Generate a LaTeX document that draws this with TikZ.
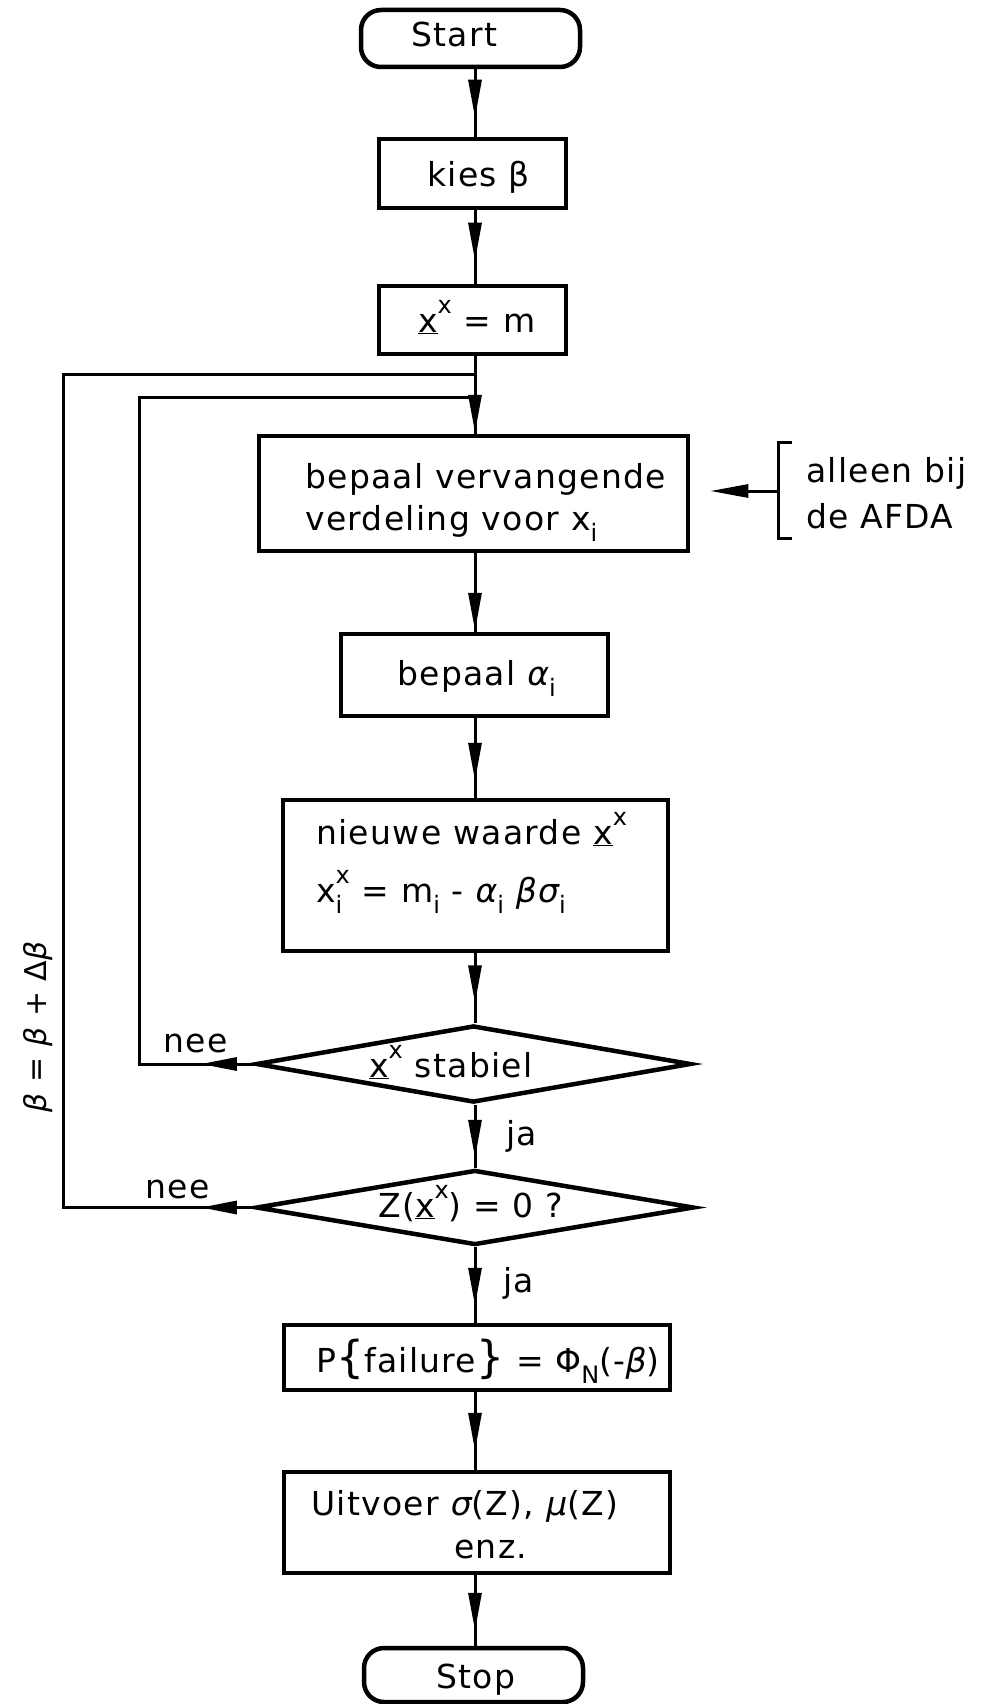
\documentclass[tikz,border=0pt]{standalone}
\usepackage{fontspec}
\setmainfont{DejaVu Sans}[LetterSpace=4]
\usetikzlibrary{arrows.meta,shapes.geometric,decorations.markings}
\newcommand\lo[1]{\raisebox{-0.34em}{\fontsize{24}{24}\selectfont #1}}
\newcommand\hi[1]{\raisebox{0.55em}{\fontsize{24}{24}\selectfont #1}}
\newcommand\lohi[2]{\makebox[0pt][l]{\lo{#1}}\hi{#2}}
\newcommand\ux{\underline{x}}
\newcommand\gr[1]{{\itshape #1}}
\newcommand\bigbr[1]{{\fontsize{44}{44}\selectfont #1}}
\tikzset{
  box/.style={draw, line width=4.5pt, rectangle, inner sep=0pt},
  term/.style={box, rounded corners=20pt},
  dia/.style={draw, line width=4.5pt, diamond, inner sep=0pt},
  txt/.style={font=\fontsize{33}{40}\selectfont, inner sep=0pt, anchor=base west},
  wire/.style={line width=3pt},
  flow/.style={wire, postaction={decorate}, decoration={markings,
     mark=at position -#1 with {\arrow{Triangle[length=38pt,width=13pt]}}}},
  midflow/.style={wire, postaction={decorate}, decoration={markings,
     mark=at position #1 with {\arrow{Triangle[length=36pt,width=13pt]}}}},
}
\begin{document}
\begin{tikzpicture}[x=1pt,y=-1pt]
\fill[white] (0,0) rectangle (982,1704);
\useasboundingbox (0,0) rectangle (982,1704);

% boxes
\node[term, minimum width=219pt, minimum height=57pt] (start) at (470.5,38.5) {};
\node[box, minimum width=187pt, minimum height=69pt] (kies) at (472.5,173.5) {};
\node[box, minimum width=187pt, minimum height=68pt] (xm) at (472.5,320) {};
\node[box, minimum width=429pt, minimum height=115pt] (b1) at (473.5,493.5) {};
\node[box, minimum width=267pt, minimum height=82pt] (b2) at (474.5,675) {};
\node[box, minimum width=385pt, minimum height=151pt] (b3) at (475.5,875.5) {};
\node[dia, minimum width=435pt, minimum height=77pt] (d1) at (473.5,1064) {};
\node[dia, minimum width=438pt, minimum height=75pt] (d2) at (475,1207.5) {};
\node[box, minimum width=386pt, minimum height=65pt] (pf) at (477,1357.5) {};
\node[box, minimum width=386pt, minimum height=101pt] (out) at (477,1522.5) {};
\node[term, minimum width=219pt, minimum height=54pt] (stop) at (473.5,1675) {};

% texts
\node[txt] (tstart) at (411,47) {Start};
\node[txt] (tkies) at (427,187) {kies β};
\node[txt] (txm) at (418,332) {\ux\hi{x} = m};
\node[txt] (tb1a) at (305,488) {bepaal vervangende};
\node[txt] (tb1b) at (305,530) {verdeling voor x\lo{i}};
\node[txt] (tb2) at (397,685) {bepaal \gr{α}\lo{i}};
\node[txt] (tb3a) at (316,844) {nieuwe waarde \ux\hi{x}};
\node[txt] (tb3b) at (316,902) {x\lohi{i}{x} = m\lo{i} - \gr{α}\lo{i} \gr{βσ}\lo{i}};
\node[txt] (td1) at (369,1077) {\ux\hi{x} stabiel};
\node[txt] (td2) at (378,1217) {Z(\ux\hi{x}) = 0 ?};
\node[txt] (tpf) at (316,1372) {P\bigbr{\{}failure\bigbr{\}} = Φ\lo{N}(-\gr{β})};
\node[txt] (tout1) at (311,1515) {Uitvoer \gr{σ}(Z), \gr{μ}(Z)};
\node[txt] (tout2) at (454,1558) {enz.};
\node[txt] (tstop) at (436,1688) {Stop};
\node[txt] (nee1) at (163,1052) {nee};
\node[txt] (nee2) at (145,1198) {nee};
\node[txt] (ja1) at (506,1145) {ja};
\node[txt] (ja2) at (503,1292) {ja};
\node[txt] (al1) at (806,482) {alleen bij};
\node[txt] (al2) at (806,528) {de AFDA};
\node[font=\fontsize{30}{36}\selectfont, inner sep=0pt, rotate=90] (rot) at (38,1027)
  {\gr{β} = \gr{β} + Δ\gr{β}};

% main axis connectors
\coordinate (ax) at (475,0);
\draw[flow=19pt] (start.south -| ax) -- (kies.north -| ax);
\draw[flow=23pt] (kies.south -| ax) -- (xm.north -| ax);
\draw[flow=1pt] (xm.south -| ax) -- (b1.north -| ax);
\draw[flow=1pt] (b1.south -| ax) -- (b2.north -| ax);
\draw[flow=17pt] (b2.south -| ax) -- (b3.north -| ax);
\draw[flow=20pt] (b3.south -| ax) -- (d1.north -| ax);
\draw[flow=10pt] (d1.south -| ax) -- (d2.north -| ax);
\draw[flow=17pt] (d2.south -| ax) -- (pf.north -| ax);
\draw[flow=19pt] (pf.south -| ax) -- (out.north -| ax);
\draw[flow=15pt] (out.south -| ax) -- (stop.north -| ax);

% loops
\coordinate (inL) at (139,0);
\coordinate (outL) at (63,0);
\coordinate (jin) at (475,397);
\coordinate (jout) at (475,374);
\draw[midflow=53pt] (d1.west) -| (inL |- jin) -- (jin);
\draw[midflow=53pt] (d2.west) -| (outL |- jout) -- (jout);

% bracket
\coordinate (brk) at (778,491);
\draw[wire] (792,442) -- (778,442) -- (778,538) -- (792,538);
\draw[wire, -{Triangle[length=38pt,width=13pt]}, shorten >=20pt] (brk) -- (b1.east |- brk);
\end{tikzpicture}
\end{document}
